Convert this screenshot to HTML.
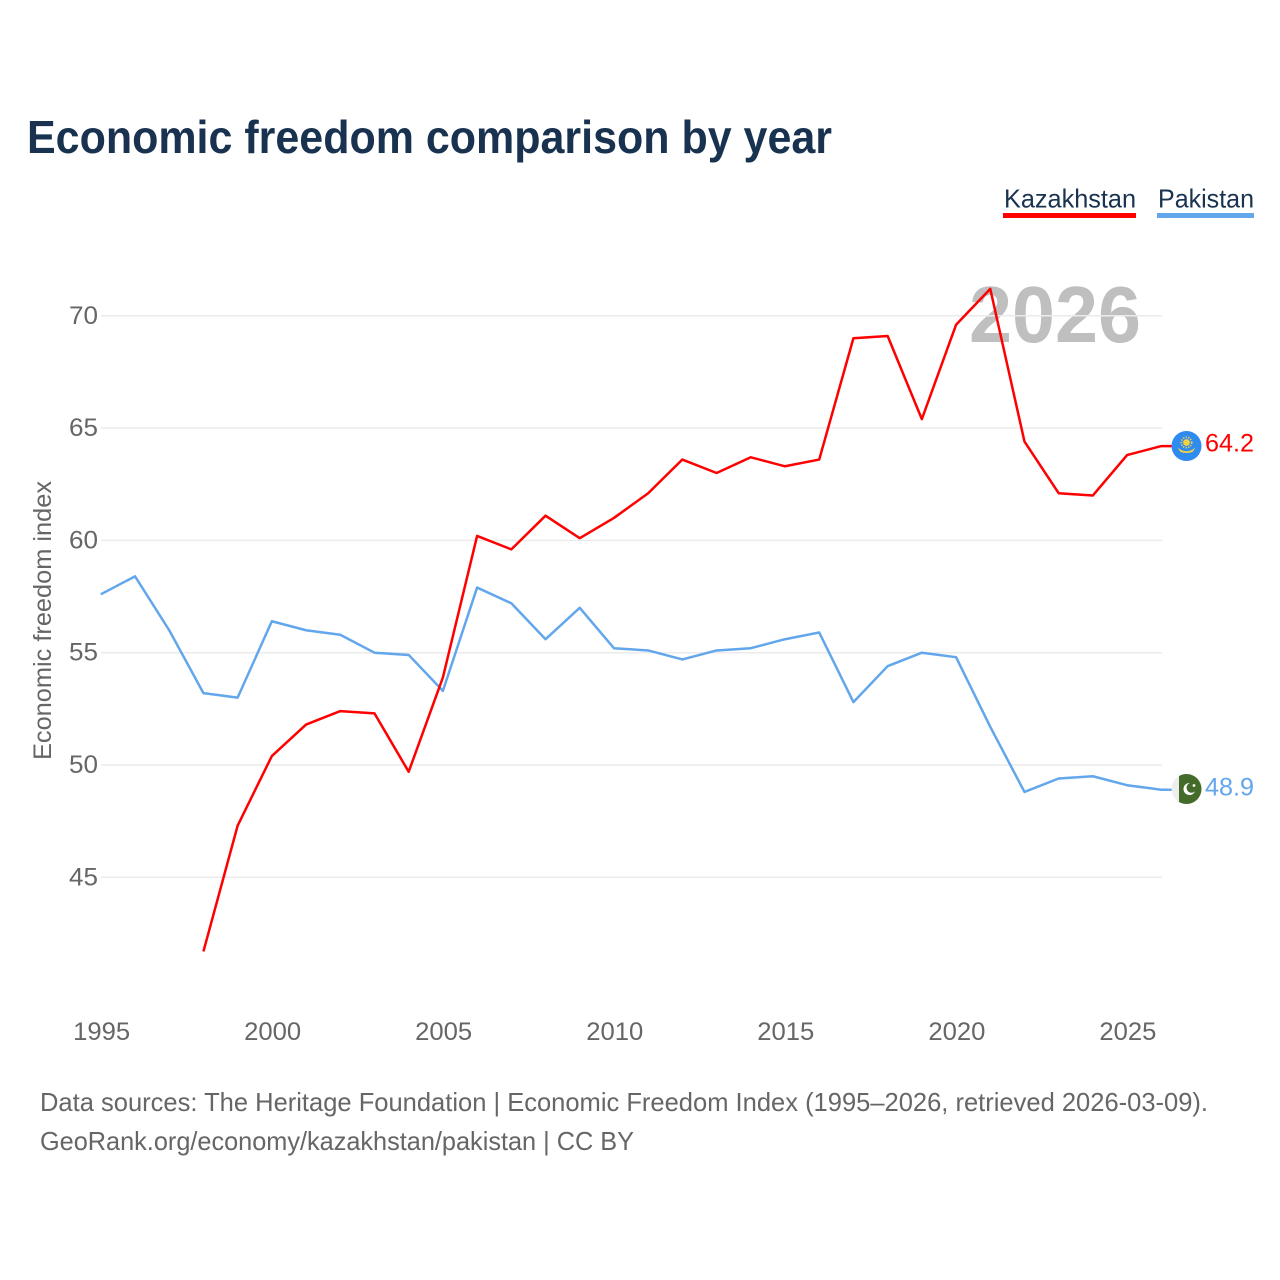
<!DOCTYPE html>
<html lang="en">
<head>
<meta charset="utf-8">
<title>Economic freedom comparison by year</title>
<style>
html,body{margin:0;padding:0;background:#fff}
svg{display:block}
text{font-family:"Liberation Sans",sans-serif}
</style>
</head>
<body>
<svg id="chart" xmlns="http://www.w3.org/2000/svg" width="1280" height="1280" viewBox="0 0 1280 1280">
  <defs>
    <clipPath id="flag-clip-pk"><circle cx="1186.5" cy="789" r="15"/></clipPath>
  </defs>
  <rect x="0" y="0" width="1280" height="1280" fill="#ffffff"/>
  <text x="27" y="153" font-size="46" font-weight="700" fill="#18324f" textLength="805" lengthAdjust="spacingAndGlyphs">Economic freedom comparison by year</text>

  <g>
    <text x="1004" y="207.5" font-size="26" fill="#18324f" textLength="132" lengthAdjust="spacingAndGlyphs">Kazakhstan</text>
    <rect x="1003" y="213" width="133" height="5" fill="#ff0000"/>
  </g>
  <g>
    <text x="1158" y="207.5" font-size="26" fill="#18324f" textLength="96" lengthAdjust="spacingAndGlyphs">Pakistan</text>
    <rect x="1157" y="213" width="97" height="5" fill="#62a6ec"/>
  </g>

  <text x="969" y="342" font-size="80" font-weight="700" fill="#bfbfbf" textLength="172" lengthAdjust="spacingAndGlyphs">2026</text>

  <g id="grid"></g>
  <g id="yticks"></g>
  <g id="xticks"></g>

  <text transform="translate(51,760) rotate(-90)" font-size="25" fill="#666666" textLength="279" lengthAdjust="spacingAndGlyphs">Economic freedom index</text>

  <g id="series"></g>

  <g id="flag-kz">
    <circle cx="1186.5" cy="446" r="15" fill="#2f8bf0"/>
    <circle cx="1186.5" cy="442.5" r="5.2" fill="none" stroke="#f5d142" stroke-width="1.6" stroke-dasharray="1.3 1.3"/>
    <circle cx="1186.5" cy="442.5" r="3.4" fill="#f5d142"/>
    <path d="M1177.5 447.5 Q1186.5 455 1195.5 447.5 L1192.5 452 Q1186.5 454 1180.5 452 Z" fill="#f5d142"/>
  </g>
  <g id="flag-pk">
    <circle cx="1186.5" cy="789" r="15" fill="#eeeeee"/>
    <rect x="1179" y="770" width="25" height="38" fill="#456b2b" clip-path="url(#flag-clip-pk)"/>
    <circle cx="1189.5" cy="789" r="6" fill="#ffffff"/>
    <circle cx="1191.5" cy="787.8" r="5" fill="#456b2b"/>
    <circle cx="1194" cy="785.5" r="1.4" fill="#ffffff"/>
  </g>

  <text x="1205" y="451.5" font-size="25" fill="#ff0000" textLength="49" lengthAdjust="spacingAndGlyphs">64.2</text>
  <text x="1205" y="795.5" font-size="25" fill="#62a6ec" textLength="49" lengthAdjust="spacingAndGlyphs">48.9</text>

  <text x="40" y="1111" font-size="26" fill="#666666" textLength="1168" lengthAdjust="spacingAndGlyphs">Data sources: The Heritage Foundation | Economic Freedom Index (1995–2026, retrieved 2026-03-09).</text>
  <text x="40" y="1150" font-size="26" fill="#666666" textLength="594" lengthAdjust="spacingAndGlyphs">GeoRank.org/economy/kazakhstan/pakistan | CC BY</text>
</svg>
<script>
const years = [1995,1996,1997,1998,1999,2000,2001,2002,2003,2004,2005,2006,2007,2008,2009,2010,2011,2012,2013,2014,2015,2016,2017,2018,2019,2020,2021,2022,2023,2024,2025,2026];
const kazakhstanValues = [null,null,null,41.7,47.3,50.4,51.8,52.4,52.3,49.7,53.9,60.2,59.6,61.1,60.1,61.0,62.1,63.6,63.0,63.7,63.3,63.6,69.0,69.1,65.4,69.6,71.2,64.4,62.1,62.0,63.8,64.2];
const pakistanValues = [57.6,58.4,56.0,53.2,53.0,56.4,56.0,55.8,55.0,54.9,53.3,57.9,57.2,55.6,57.0,55.2,55.1,54.7,55.1,55.2,55.6,55.9,52.8,54.4,55.0,54.8,51.7,48.8,49.4,49.5,49.1,48.9];
const yTickValues = [45,50,55,60,65,70];
const xTickValues = [1995,2000,2005,2010,2015,2020,2025];

const SVG_NS = 'http://www.w3.org/2000/svg';
function xScale(year){ return 100.8 + (year - 1995) * 34.21; }
function yScale(value){ return 315.8 + (70 - value) * 22.46; }

const gridGroup = document.getElementById('grid');
const yTickGroup = document.getElementById('yticks');
const xTickGroup = document.getElementById('xticks');
const seriesGroup = document.getElementById('series');

yTickValues.forEach(function(v){
  const line = document.createElementNS(SVG_NS, 'line');
  line.setAttribute('x1', 101);
  line.setAttribute('x2', 1162);
  line.setAttribute('y1', yScale(v));
  line.setAttribute('y2', yScale(v));
  line.setAttribute('stroke', '#ebebeb');
  line.setAttribute('stroke-width', 1.5);
  
  
  gridGroup.appendChild(line);

  const label = document.createElementNS(SVG_NS, 'text');
  label.setAttribute('x', 98);
  label.setAttribute('y', yScale(v) + 8);
  label.setAttribute('text-anchor', 'end');
  label.setAttribute('font-size', 25);
  label.setAttribute('fill', '#666666');
  label.setAttribute('textLength', 29);
  label.setAttribute('lengthAdjust', 'spacingAndGlyphs');
  
  
  label.textContent = String(v);
  yTickGroup.appendChild(label);
});

xTickValues.forEach(function(yr){
  const label = document.createElementNS(SVG_NS, 'text');
  label.setAttribute('x', xScale(yr) + 0.8);
  label.setAttribute('y', 1040);
  label.setAttribute('text-anchor', 'middle');
  label.setAttribute('font-size', 25);
  label.setAttribute('fill', '#666666');
  label.setAttribute('textLength', 57);
  label.setAttribute('lengthAdjust', 'spacingAndGlyphs');
  
  
  label.textContent = String(yr);
  xTickGroup.appendChild(label);
});

function linePath(values){
  let d = '';
  let lastY = 0;
  values.forEach(function(v, i){
    if (v === null) return;
    lastY = yScale(v);
    d += (d === '' ? 'M' : 'L') + xScale(years[i]).toFixed(2) + ' ' + lastY.toFixed(2) + ' ';
  });
  d += 'H1172';
  return d;
}

const pakistanLine = document.createElementNS(SVG_NS, 'path');
pakistanLine.setAttribute('d', linePath(pakistanValues));
pakistanLine.setAttribute('fill', 'none');
pakistanLine.setAttribute('stroke', '#62a6ec');
pakistanLine.setAttribute('stroke-width', 2.5);
pakistanLine.setAttribute('stroke-linejoin', 'round');


seriesGroup.appendChild(pakistanLine);

const kazakhstanLine = document.createElementNS(SVG_NS, 'path');
kazakhstanLine.setAttribute('d', linePath(kazakhstanValues));
kazakhstanLine.setAttribute('fill', 'none');
kazakhstanLine.setAttribute('stroke', '#ff0000');
kazakhstanLine.setAttribute('stroke-width', 2.5);
kazakhstanLine.setAttribute('stroke-linejoin', 'round');


seriesGroup.appendChild(kazakhstanLine);
</script>
</body>
</html>
